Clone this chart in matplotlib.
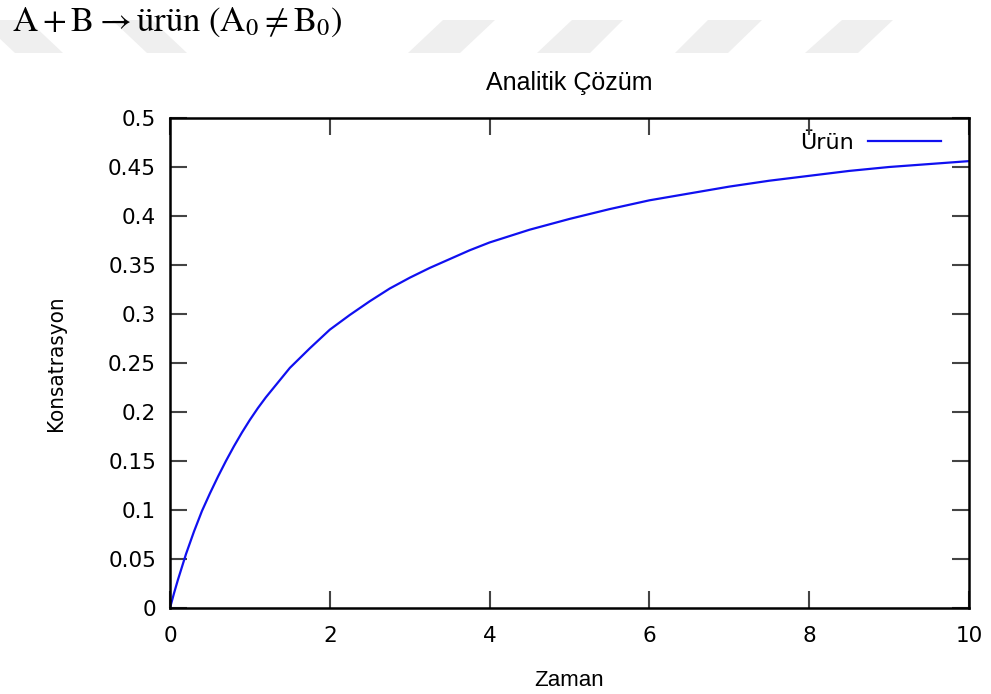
import matplotlib
matplotlib.use("Agg")
import matplotlib.pyplot as plt
from matplotlib.patches import Polygon

# ----------------------
# Data
# ----------------------
zaman = [0, 0.05, 0.1, 0.15, 0.2, 0.3, 0.4, 0.5, 0.6, 0.7, 0.8, 0.9, 1.0,
         1.1, 1.2, 1.35, 1.5, 1.75, 2.0, 2.25, 2.5, 2.75, 3.0, 3.25, 3.5,
         3.75, 4.0, 4.5, 5.0, 5.5, 6.0, 6.5, 7.0, 7.5, 8.0, 8.5, 9.0, 9.5,
         10.0]
urun = [0, 0.015, 0.029, 0.042, 0.055, 0.078, 0.099, 0.117, 0.134, 0.150,
        0.165, 0.179, 0.192, 0.204, 0.215, 0.230, 0.245, 0.265, 0.284,
        0.299, 0.313, 0.326, 0.337, 0.347, 0.356, 0.365, 0.373, 0.386,
        0.397, 0.407, 0.416, 0.423, 0.430, 0.436, 0.441, 0.446, 0.450,
        0.453, 0.456]

x_ticks = [0, 2, 4, 6, 8, 10]
y_ticks = [0, 0.05, 0.1, 0.15, 0.2, 0.25, 0.3, 0.35, 0.4, 0.45, 0.5]
y_tick_labels = ["0", "0.05", "0.1", "0.15", "0.2", "0.25", "0.3", "0.35",
                 "0.4", "0.45", "0.5"]

W, H = 991, 694
fig = plt.figure(figsize=(W / 100, H / 100), dpi=100)

# ----------------------
# Grey watermark shapes behind the heading
# ----------------------
def px(x, y):
    return (x / W, 1 - y / H)

shapes = [
    [(-20, 20), (28, 20), (63, 53), (15, 53)],
    [(112, 20), (152, 20), (187, 53), (147, 53)],
    [(443, 20), (495, 20), (460, 53), (408, 53)],
    [(572, 20), (623, 20), (590, 53), (537, 53)],
    [(708, 20), (762, 20), (728, 53), (675, 53)],
    [(842, 20), (893, 20), (858, 53), (805, 53)],
]
for s in shapes:
    fig.add_artist(Polygon([px(*p) for p in s], closed=True,
                           transform=fig.transFigure, facecolor="#efefef",
                           edgecolor="none", zorder=0))

plt.rcParams["mathtext.fontset"] = "stix"
fig.text(12 / W, 1 - 31 / H,
         r"$\mathrm{A} + \mathrm{B} \rightarrow \mathrm{ürün}\ "
         r"(\mathrm{A}_0 \neq \mathrm{B}_0)$",
         fontsize=25, ha="left", va="baseline", color="black")

# ----------------------
# Main chart
# ----------------------
ax = fig.add_axes([170 / W, 1 - 608 / H, 799 / W, 490 / H])
ax.plot(zaman, urun, color="#1010f0", lw=1.6, label="Ürün")

ax.set_xlim(0, 10)
ax.set_ylim(0, 0.5)
ax.set_xticks(x_ticks)
ax.set_yticks(y_ticks)
ax.set_yticklabels(y_tick_labels)
ax.tick_params(direction="in", length=12, width=1.5, color="#444444",
               top=True, right=True, labelsize=15.5, pad=10,
               labelfontfamily="DejaVu Sans")
ax.tick_params(axis="x", pad=13)
for sp in ax.spines.values():
    sp.set_linewidth(1.8)
    sp.set_color("black")

ax.set_title("Analitik Çözüm", fontsize=18, family="Liberation Sans", pad=20)
ax.set_xlabel("Zaman", fontsize=16, family="Liberation Sans", labelpad=17)
ax.set_ylabel("Konsatrasyon", fontsize=16, family="DejaVu Sans",
              fontstretch="condensed", labelpad=30)

leg = ax.legend(loc="center right", frameon=False,
                bbox_to_anchor=((941 - 170) / 799, 1 - (143 - 118) / 490),
                markerfirst=False, handlelength=3.3, handletextpad=0.6,
                borderaxespad=0, borderpad=0,
                prop={"family": "DejaVu Sans", "size": 16})

fig.savefig("out.png", dpi=100)
